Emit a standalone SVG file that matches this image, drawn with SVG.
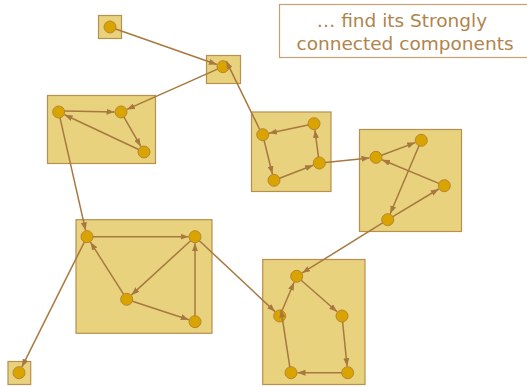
<svg xmlns="http://www.w3.org/2000/svg" width="527" height="387" viewBox="0 0 527 387">
<defs>
<style>
.box{fill:#e8d27d;stroke:#b88f50;stroke-width:1.2}
.n{fill:#d9a300;stroke:#b8862e;stroke-width:1}
.e{stroke:#a8783f;stroke-width:1.5;fill:none;marker-end:url(#ah)}
.t{font-family:"DejaVu Sans",Verdana,sans-serif;font-size:18.5px;fill:#b0844a;text-anchor:middle}
</style>
<marker id="ah" markerUnits="userSpaceOnUse" markerWidth="8" markerHeight="6" refX="8" refY="3" orient="auto">
<path d="M0,0 L8,3 L0,6 z" fill="#a8783f"/>
</marker>
</defs>
<rect width="527" height="387" fill="#fff"/>
<g id="title">
<rect x="279.5" y="4.5" width="250" height="53" fill="#fff" stroke="#c8a070" stroke-width="1.2"/>
<text class="t" x="402" y="27">… find its Strongly</text>
<text class="t" x="405" y="50">connected components</text>
</g>
<g id="compA"><rect class="box" x="98.5" y="15.5" width="23" height="23"/><circle id="A" class="n" cx="110" cy="27" r="6"/></g>
<g id="compB"><rect class="box" x="206.5" y="55.5" width="34" height="28"/><circle id="B" class="n" cx="223" cy="66.7" r="6"/></g>
<g id="compC"><rect class="box" x="47.5" y="95.5" width="108" height="68"/>
<circle id="C1" class="n" cx="58.7" cy="112" r="6"/><circle id="C2" class="n" cx="121" cy="112" r="6"/><circle id="C3" class="n" cx="144" cy="152" r="6"/></g>
<g id="compE"><rect class="box" x="251.5" y="112" width="79.5" height="79.5"/>
<circle id="E1" class="n" cx="262.7" cy="134.7" r="6"/><circle id="E2" class="n" cx="314" cy="123.7" r="6"/><circle id="E3" class="n" cx="319.3" cy="163" r="6"/><circle id="E4" class="n" cx="274" cy="180.3" r="6"/></g>
<g id="compF"><rect class="box" x="359.5" y="129.5" width="102" height="102"/>
<circle id="F1" class="n" cx="376" cy="157.3" r="6"/><circle id="F2" class="n" cx="421.3" cy="140.3" r="6"/><circle id="F3" class="n" cx="444.3" cy="185.7" r="6"/><circle id="F4" class="n" cx="387.7" cy="219.7" r="6"/></g>
<g id="compD"><rect class="box" x="76" y="219.7" width="136" height="113.6"/>
<circle id="D1" class="n" cx="87" cy="236.7" r="6"/><circle id="D2" class="n" cx="195" cy="236.7" r="6"/><circle id="D3" class="n" cx="126.7" cy="299.3" r="6"/><circle id="D4" class="n" cx="195" cy="321.7" r="6"/></g>
<g id="compH"><rect class="box" x="8" y="361.5" width="22.7" height="23"/><circle id="H" class="n" cx="19" cy="372.7" r="6"/></g>
<g id="compG"><rect class="box" x="262.7" y="259.5" width="102.3" height="125"/>
<circle id="G1" class="n" cx="296.7" cy="276.3" r="6"/><circle id="G2" class="n" cx="279.7" cy="316" r="6"/><circle id="G3" class="n" cx="342" cy="316" r="6"/><circle id="G4" class="n" cx="291" cy="372.7" r="6"/><circle id="G5" class="n" cx="347.7" cy="372.7" r="6"/></g>
<g id="edges">
<line class="e" x1="115.7" y1="29" x2="216.9" y2="64.5"/>
<line class="e" x1="217.5" y1="69.1" x2="126.9" y2="109.4"/>
<line class="e" x1="64.7" y1="111" x2="114.5" y2="112"/>
<line class="e" x1="124" y1="117.2" x2="140.8" y2="146.4"/>
<line class="e" x1="138.6" y1="149.5" x2="64.6" y2="114.8"/>
<line class="e" x1="60" y1="117.9" x2="85.6" y2="230.4"/>
<line class="e" x1="259.7" y1="129.5" x2="226.3" y2="61.1"/>
<line class="e" x1="308.1" y1="125" x2="269" y2="133.3"/>
<line class="e" x1="264.1" y1="140.5" x2="272.4" y2="174"/>
<line class="e" x1="279.6" y1="178.2" x2="313.2" y2="165.3"/>
<line class="e" x1="318.5" y1="157.1" x2="314.9" y2="130.1"/>
<line class="e" x1="325.3" y1="162.4" x2="369.5" y2="157.9"/>
<line class="e" x1="381.6" y1="155.2" x2="415.2" y2="142.6"/>
<line class="e" x1="438.8" y1="183.4" x2="382" y2="159.8"/>
<line class="e" x1="419" y1="145.8" x2="390.2" y2="213.7"/>
<line class="e" x1="392.8" y1="216.6" x2="438.7" y2="189"/>
<line class="e" x1="382.6" y1="222.9" x2="302.2" y2="272.9"/>
<line class="e" x1="93" y1="236.7" x2="188.5" y2="236.7"/>
<line class="e" x1="190.6" y1="240.8" x2="131.5" y2="294.9"/>
<line class="e" x1="132.4" y1="301.2" x2="188.8" y2="319.7"/>
<line class="e" x1="195" y1="315.7" x2="195" y2="243.2"/>
<line class="e" x1="123.5" y1="294.2" x2="90.5" y2="242.2"/>
<line class="e" x1="84.3" y1="242.1" x2="21.9" y2="366.9"/>
<line class="e" x1="199.4" y1="240.8" x2="275" y2="311.6"/>
<line class="e" x1="282.1" y1="310.5" x2="294.1" y2="282.3"/>
<line class="e" x1="301.2" y1="280.3" x2="337.1" y2="311.7"/>
<line class="e" x1="342.6" y1="322" x2="347.1" y2="366.2"/>
<line class="e" x1="341.7" y1="372.7" x2="297.5" y2="372.7"/>
<line class="e" x1="289.8" y1="366.8" x2="281" y2="309.6"/>
</g>
</svg>
